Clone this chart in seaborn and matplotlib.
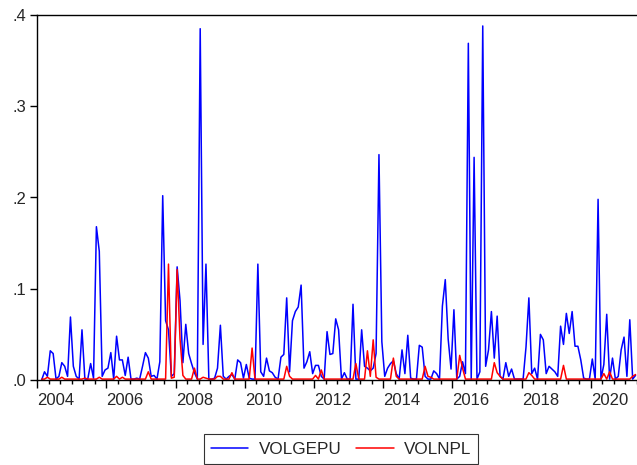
import numpy as np
import pandas as pd
import matplotlib
matplotlib.use("Agg")
import matplotlib.pyplot as plt
import matplotlib.ticker as mticker
from matplotlib.lines import Line2D
import seaborn as sns

# Monthly observations starting 2004M02
volgepu_a = [0.000, 0.009, 0.004, 0.032, 0.029, 0.001, 0.004, 0.019, 0.015, 0.004,
             0.069, 0.015, 0.004, 0.001, 0.055, 0.001, 0.001, 0.018, 0.002, 0.168,
             0.141, 0.004, 0.011, 0.013, 0.030, 0.001, 0.048, 0.022, 0.022, 0.005,
             0.025, 0.001, 0.001, 0.002, 0.001, 0.015, 0.030, 0.024, 0.004, 0.005,
             0.001, 0.020, 0.202, 0.065, 0.055, 0.004, 0.007, 0.124, 0.087, 0.019,
             0.061, 0.029, 0.018, 0.008, 0.001, 0.385, 0.039, 0.127]
volgepu_b = [0.001, 0.001, 0.002, 0.013, 0.060, 0.004, 0.001, 0.004, 0.006, 0.001,
             0.022, 0.019, 0.002, 0.017, 0.002, 0.001, 0.001, 0.127, 0.009, 0.004,
             0.024, 0.010, 0.008, 0.003, 0.001, 0.025, 0.028, 0.090, 0.009, 0.065,
             0.075, 0.080, 0.104, 0.013, 0.020, 0.031, 0.007, 0.016, 0.016, 0.004,
             0.001, 0.053, 0.028, 0.029, 0.067, 0.055, 0.001, 0.008, 0.001, 0.001,
             0.083, 0.001, 0.001, 0.055, 0.015, 0.013, 0.010, 0.013, 0.029, 0.247,
             0.042, 0.004, 0.013, 0.018, 0.021, 0.007, 0.001, 0.033, 0.007, 0.049,
             0.002, 0.001, 0.001]
volgepu_c = [0.038, 0.036, 0.004, 0.001, 0.001, 0.010, 0.007, 0.001, 0.081, 0.110,
             0.045, 0.012, 0.077, 0.001, 0.004, 0.020, 0.007, 0.369, 0.001, 0.244,
             0.001, 0.009, 0.388, 0.015, 0.033, 0.075, 0.024, 0.070, 0.004, 0.001,
             0.019, 0.004, 0.012, 0.001, 0.001, 0.001, 0.001, 0.036, 0.090, 0.007,
             0.013, 0.001, 0.050, 0.044, 0.007, 0.015, 0.012, 0.009, 0.004, 0.059,
             0.039, 0.073, 0.051, 0.075, 0.037, 0.037, 0.022, 0.002, 0.001, 0.001,
             0.023, 0.001, 0.198, 0.001, 0.017, 0.072, 0.001, 0.024, 0.001, 0.004,
             0.033, 0.047, 0.004, 0.066, 0.001, 0.005]
volgepu = volgepu_a + volgepu_b + volgepu_c

volnpl_a = [0.001, 0.001, 0.003, 0.001, 0.001, 0.001, 0.001, 0.003, 0.001, 0.001,
            0.001, 0.001, 0.001, 0.001, 0.001, 0.002, 0.001, 0.001, 0.001, 0.001,
            0.003, 0.001, 0.001, 0.001, 0.001, 0.001, 0.004, 0.001, 0.003, 0.001,
            0.001, 0.001, 0.001, 0.001, 0.001, 0.001, 0.001, 0.009, 0.001, 0.001,
            0.001, 0.001, 0.001, 0.001, 0.127, 0.002, 0.003, 0.121, 0.045, 0.005,
            0.001, 0.001, 0.001, 0.013, 0.001, 0.001, 0.003, 0.002]
volnpl_b = [0.001, 0.001, 0.001, 0.004, 0.004, 0.001, 0.001, 0.001, 0.008, 0.001,
            0.001, 0.001, 0.001, 0.001, 0.001, 0.035, 0.001, 0.001, 0.001, 0.001,
            0.001, 0.001, 0.001, 0.001, 0.001, 0.001, 0.001, 0.015, 0.004, 0.001,
            0.001, 0.001, 0.001, 0.001, 0.001, 0.001, 0.001, 0.005, 0.001, 0.011,
            0.001, 0.001, 0.001, 0.001, 0.001, 0.001, 0.001, 0.001, 0.001, 0.001,
            0.001, 0.018, 0.001, 0.001, 0.001, 0.032, 0.004, 0.044, 0.003, 0.001,
            0.001, 0.001, 0.001, 0.001, 0.024, 0.004, 0.001, 0.001, 0.001, 0.001,
            0.001, 0.001, 0.001]
volnpl_c = [0.001, 0.001, 0.015, 0.004, 0.003, 0.001, 0.001, 0.001, 0.001, 0.001,
            0.001, 0.001, 0.001, 0.001, 0.027, 0.013, 0.001, 0.001, 0.001, 0.001,
            0.001, 0.001, 0.001, 0.001, 0.001, 0.001, 0.019, 0.008, 0.004, 0.001,
            0.001, 0.001, 0.001, 0.001, 0.001, 0.001, 0.001, 0.001, 0.008, 0.005,
            0.001, 0.001, 0.001, 0.001, 0.001, 0.001, 0.001, 0.001, 0.001, 0.001,
            0.016, 0.001, 0.001, 0.001, 0.001, 0.001, 0.001, 0.001, 0.001, 0.001,
            0.001, 0.001, 0.001, 0.001, 0.007, 0.001, 0.009, 0.001, 0.001, 0.001,
            0.001, 0.001, 0.001, 0.001, 0.004, 0.006]
volnpl = volnpl_a + volnpl_b + volnpl_c

year_labels = ["2004", "2006", "2008", "2010", "2012", "2014", "2016", "2018", "2020"]
series_names = ["VOLGEPU", "VOLNPL"]
series_colors = ["#0000FF", "#FF0000"]

n = len(volgepu)
# months since 2004M01, observation drawn at middle of its month
t = np.arange(1, n + 1) + 0.5
df = pd.concat([
    pd.DataFrame({"t": t, "value": volgepu, "series": series_names[0]}),
    pd.DataFrame({"t": t, "value": volnpl, "series": series_names[1]}),
])

sns.set_style("ticks")
plt.rcParams["font.family"] = ["Liberation Sans", "DejaVu Sans"]

fig = plt.figure(figsize=(6.37, 4.65), dpi=100)
ax = fig.add_axes([37.3 / 637, 1 - 380 / 465, (637 - 37.3) / 637, (380 - 15) / 465])

sns.lineplot(data=df, x="t", y="value", hue="series", hue_order=series_names,
             palette=dict(zip(series_names, series_colors)), linewidth=1.1,
             ax=ax, legend=False, estimator=None)

ax.set_xlim(0, 208)
ax.set_ylim(0, 0.4)
ax.set_xlabel("")
ax.set_ylabel("")

ax.xaxis.set_major_locator(mticker.FixedLocator(np.arange(len(year_labels)) * 24))
ax.xaxis.set_major_formatter(mticker.FixedFormatter(year_labels))
ax.xaxis.set_minor_locator(mticker.MultipleLocator(4))
ax.yaxis.set_major_locator(mticker.MultipleLocator(0.1))
ax.yaxis.set_major_formatter(mticker.FuncFormatter(lambda v, p: f"{v:.1f}".lstrip("0")))

ax.tick_params(axis="x", which="major", length=6, width=1, labelsize=12, pad=3, color="black")
ax.tick_params(axis="x", which="minor", length=3.2, width=1, color="black")
ax.tick_params(axis="y", which="major", length=5, width=1, labelsize=12, pad=3, color="black")
for lbl in ax.get_xticklabels():
    lbl.set_horizontalalignment("left")

for side in ["left", "top", "bottom"]:
    ax.spines[side].set_visible(True)
    ax.spines[side].set_color("black")
    ax.spines[side].set_linewidth(1.0)
ax.spines["right"].set_visible(False)

handles = [Line2D([], [], color=c, lw=1.1) for c in series_colors]
leg = fig.legend(handles, series_names, loc="center", ncol=2,
                 bbox_to_anchor=(341 / 637, 1 - 449 / 465), fontsize=12.3,
                 frameon=True, fancybox=False, edgecolor="black",
                 handlelength=2.2, handletextpad=0.6, columnspacing=0.85,
                 borderpad=0.42)
leg.get_frame().set_linewidth(0.8)

fig.savefig("out.png", dpi=100)
